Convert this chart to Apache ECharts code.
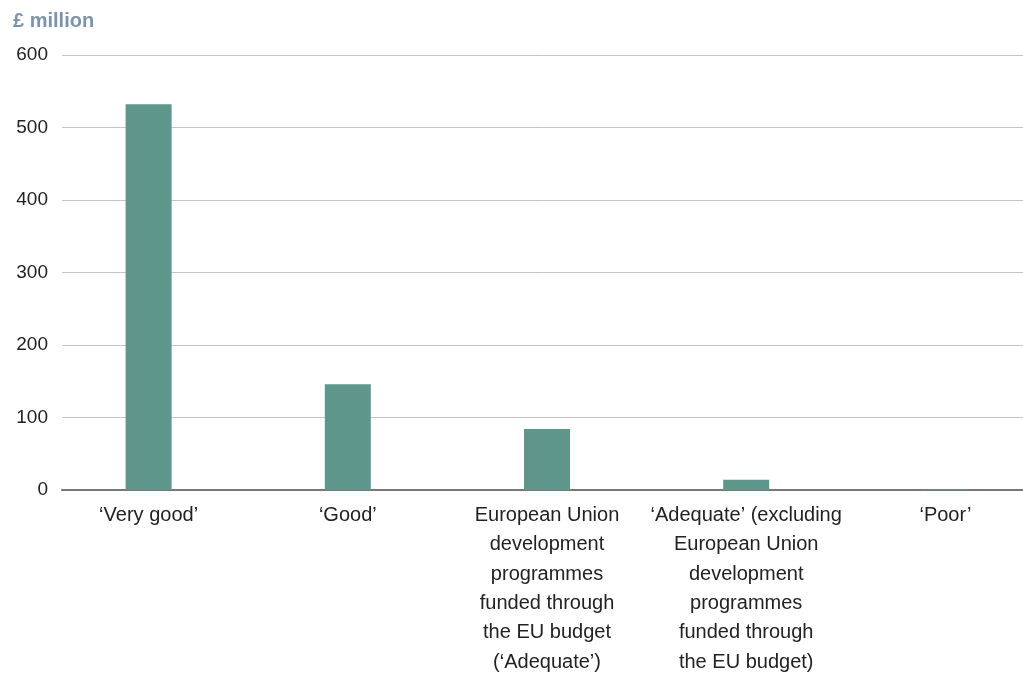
<!DOCTYPE html>
<html>
<head>
<meta charset="utf-8">
<script src="https://cdn.jsdelivr.net/npm/echarts@6/dist/echarts.min.js"></script>
<style>
  html, body { margin: 0; padding: 0; background: #ffffff; }
  #chart { width: 1023px; height: 675px; }
</style>
</head>
<body>
<div id="chart"></div>
<script>
// Spending by rating, £ million
const categories = [
  "\u2018Very good\u2019",
  "\u2018Good\u2019",
  "European Union\ndevelopment\nprogrammes\nfunded through\nthe EU budget\n(\u2018Adequate\u2019)",
  "\u2018Adequate\u2019 (excluding\nEuropean Union\ndevelopment\nprogrammes\nfunded through\nthe EU budget)",
  "\u2018Poor\u2019"
];
const values = [532, 146, 84, 14, 1];
const yTicks = [0, 100, 200, 300, 400, 500, 600];
const unitLabel = "\u00a3 million";

const FONT = "'Liberation Sans', Arial, sans-serif";
const yMin = yTicks[0];
const yMax = yTicks[yTicks.length - 1];
const yStep = yTicks[1] - yTicks[0];

const chart = echarts.init(document.getElementById('chart'), null, { renderer: 'canvas' });

chart.setOption({
  backgroundColor: '#ffffff',
  animation: false,
  title: {
    text: unitLabel,
    left: 8,
    top: 6,
    textStyle: { fontFamily: FONT, fontSize: 20, fontWeight: 'bold', color: '#7d93ab' }
  },
  grid: [
    // gridlines and value labels
    { left: 62, right: 0, top: 55, bottom: 185, containLabel: false, outerBoundsMode: 'none' },
    // bars and category labels (slightly wider band than the gridlines)
    { left: 49, width: 996, top: 55, bottom: 185, containLabel: false, outerBoundsMode: 'none' }
  ],
  xAxis: [
    {
      gridIndex: 0,
      type: 'category',
      data: categories,
      axisLine: { show: true, lineStyle: { color: '#777777', width: 2 } },
      axisTick: { show: false },
      axisLabel: { show: false }
    },
    {
      gridIndex: 1,
      type: 'category',
      data: categories,
      axisLine: { show: false },
      axisTick: { show: false },
      axisLabel: {
        interval: 0,
        margin: 11,
        fontFamily: FONT,
        fontSize: 20,
        lineHeight: 29.3,
        color: '#222222',
        align: 'center'
      }
    }
  ],
  yAxis: [
    {
      gridIndex: 0,
      type: 'value',
      min: yMin,
      max: yMax,
      interval: yStep,
      axisLine: { show: false },
      axisTick: { show: false },
      axisLabel: { margin: 14, fontFamily: FONT, fontSize: 19, color: '#222222' },
      splitLine: { show: true, lineStyle: { color: '#c4c4c4', width: 1 } }
    },
    {
      gridIndex: 1,
      type: 'value',
      min: yMin,
      max: yMax,
      interval: yStep,
      axisLine: { show: false },
      axisTick: { show: false },
      axisLabel: { show: false },
      splitLine: { show: false }
    }
  ],
  series: [
    {
      type: 'bar',
      xAxisIndex: 1,
      yAxisIndex: 1,
      data: values,
      barWidth: 46,
      itemStyle: { color: '#5e968b' },
      z: 3
    }
  ]
});
</script>
</body>
</html>
